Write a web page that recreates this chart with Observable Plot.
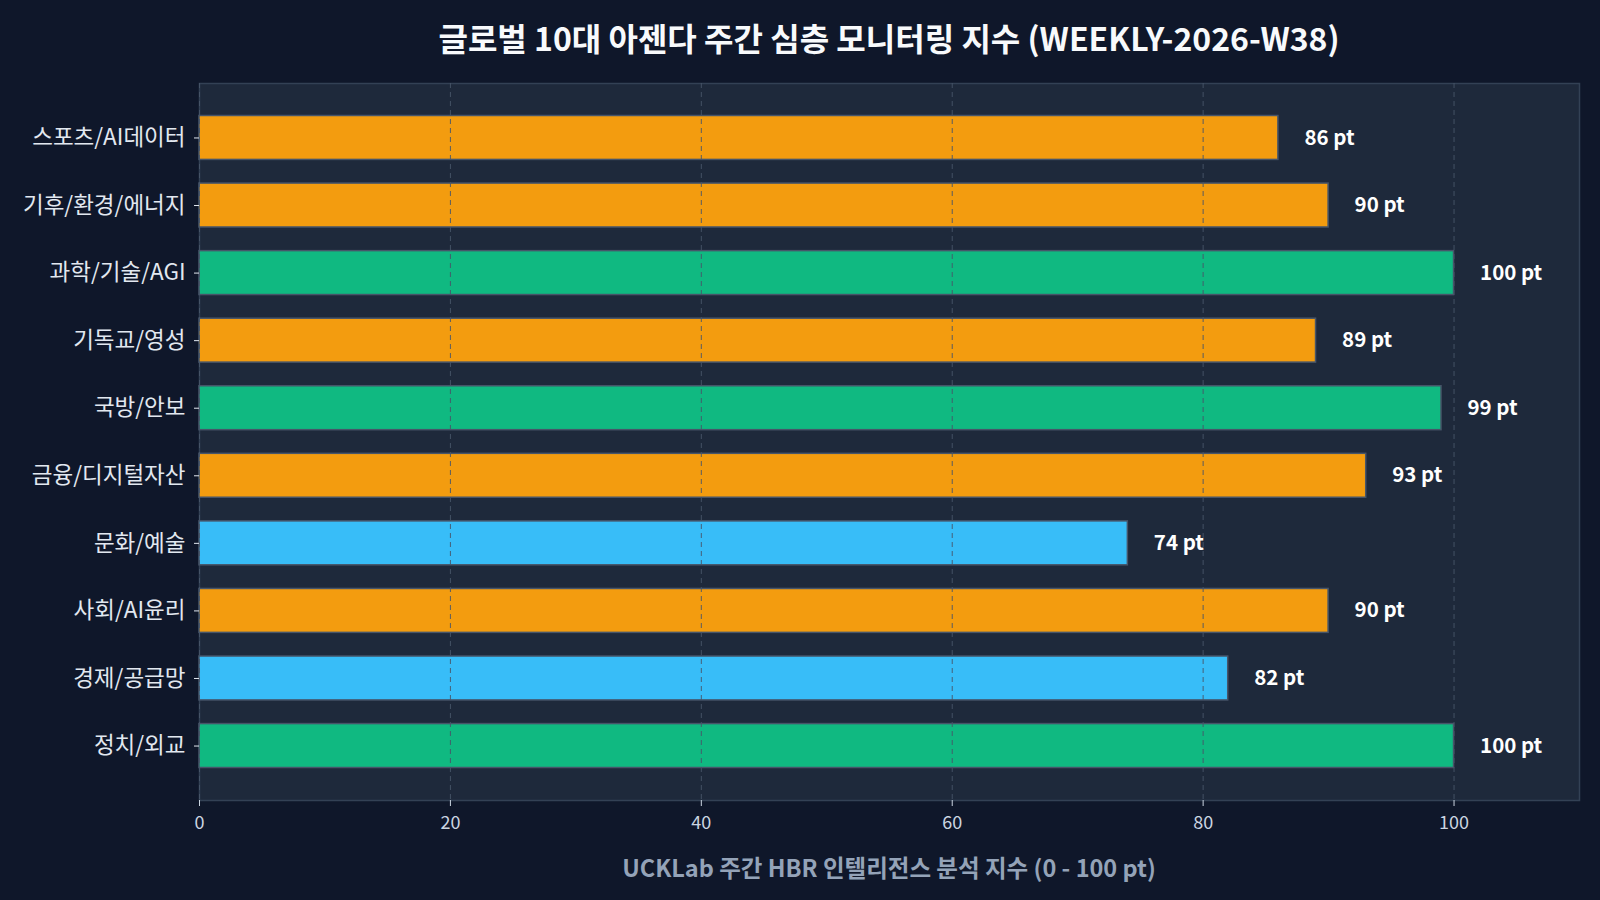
<!DOCTYPE html>
<html>
<head>
<meta charset="utf-8">
<script src="https://cdn.jsdelivr.net/npm/d3@7"></script>
<script src="https://cdn.jsdelivr.net/npm/@observablehq/plot@0.6"></script>
<style>
  html, body { margin: 0; padding: 0; background: #0f172a; }
  body { width: 1600px; height: 900px; overflow: hidden; font-family: "Noto Sans CJK KR", "Noto Sans", sans-serif; }
  #title { height: 74px; line-height: 74px; text-align: center; padding-left: 199px; padding-right: 21px; color: #f8fafc; font-size: 32px; font-weight: 700; white-space: nowrap; }
  #xlabel { height: 54px; line-height: 54px; text-align: center; padding-left: 199px; padding-right: 21px; color: #94a3b8; font-size: 23.5px; font-weight: 700; white-space: nowrap; }
  #chart svg { display: block; }
</style>
</head>
<body>
<div id="title">글로벌 10대 아젠다 주간 심층 모니터링 지수 (WEEKLY-2026-W38)</div>
<div id="chart"></div>
<div id="xlabel">UCKLab 주간 HBR 인텔리전스 분석 지수 (0 - 100 pt)</div>
<script>
const categories = ["스포츠/AI데이터", "기후/환경/에너지", "과학/기술/AGI", "기독교/영성", "국방/안보", "금융/디지털자산", "문화/예술", "사회/AI윤리", "경제/공급망", "정치/외교"];
const values = [86, 90, 100, 89, 99, 93, 74, 90, 82, 100];
const tiers = ["mid", "mid", "high", "mid", "high", "mid", "low", "mid", "low", "high"];
const tierNames = ["high", "mid", "low"];
const tierColors = ["#10b981", "#f39c0f", "#38bdf8"];
const xTicks = [0, 20, 40, 60, 80, 100];

const data = categories.map((c, i) => ({category: c, value: values[i], tier: tiers[i]}));

const chart = Plot.plot({
  width: 1600,
  height: 766,
  marginTop: 9,
  marginBottom: 40,
  marginLeft: 199,
  marginRight: 21,
  style: {background: "transparent", fontFamily: "'Noto Sans CJK KR', 'Noto Sans', sans-serif"},
  x: {domain: [0, 110]},
  y: {domain: categories, paddingInner: 0.35, paddingOuter: 0.481, round: false},
  color: {domain: tierNames, range: tierColors},
  marks: [
    Plot.frame({fill: "#1e293b", stroke: "#334155", strokeWidth: 1.5}),
    Plot.barX(data, {y: "category", x: "value", fill: "tier", stroke: "#475569", strokeWidth: 1.5}),
    Plot.gridX(xTicks, {stroke: "#475569", strokeOpacity: 0.9, strokeDasharray: "5,4", strokeWidth: 1}),
    Plot.text(data, {y: "category", x: "value", text: d => `${d.value} pt`, dx: 26, textAnchor: "start", fill: "#ffffff", fontWeight: "bold", fontSize: 20.5}),
    Plot.axisX({ticks: xTicks, tickSize: 6, tickPadding: 10, fontSize: 18, color: "#cbd5e1", label: null}),
    Plot.axisY({tickSize: 5, tickPadding: 9, fontSize: 22.5, color: "#e2e8f0", label: null})
  ]
});
document.getElementById("chart").appendChild(chart);
</script>
</body>
</html>
